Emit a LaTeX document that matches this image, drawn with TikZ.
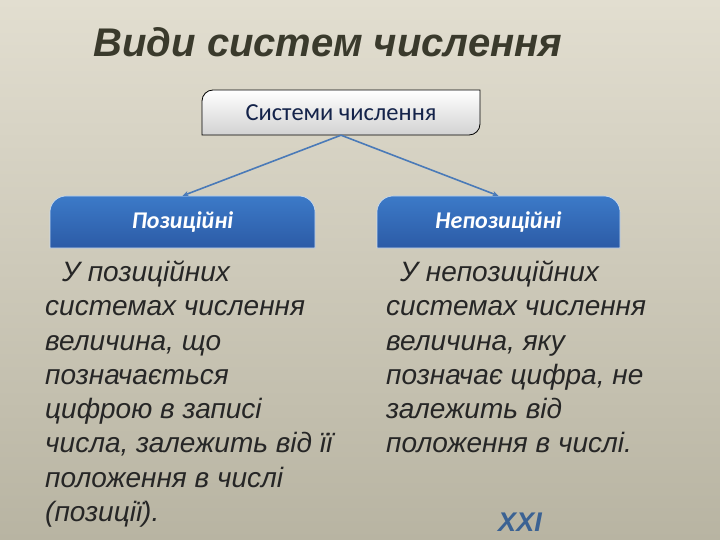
\documentclass[tikz,border=0pt]{standalone}
\usepackage{fontspec}
\setmainfont{Liberation Sans}
\newfontfamily\boxfont{Carlito}
\usetikzlibrary{arrows.meta}

\definecolor{bgtop}{HTML}{E2DED0}
\definecolor{bgbot}{HTML}{B8B4A2}
\definecolor{titlecol}{HTML}{3A3A2C}
\definecolor{boxtop}{HTML}{3C7AC8}
\definecolor{boxbot}{HTML}{2C5BA6}
\definecolor{arrowcol}{HTML}{4A7AB8}
\definecolor{navy}{HTML}{14234A}

\tikzset{
  labelbox/.style={minimum width=265pt, minimum height=52pt, inner sep=0pt,
    font=\boxfont\bfseries\itshape\fontsize{24}{28}\selectfont, text=white},
  bodytext/.style={anchor=north west, inner sep=0pt, align=left,
    font=\itshape\fontsize{28}{34.3}\selectfont, text=black!85},
  branch/.style={draw=arrowcol, line width=1.6pt, -{Stealth[length=6pt,width=5pt]}}
}

\begin{document}
\begin{tikzpicture}[x=1pt, y=-1pt]
	\shade[top color=bgtop, bottom color=bgbot] (0,0) rectangle (720,540); % Hintergrund
	\useasboundingbox (0,0) rectangle (720,540);
	
	\node[anchor=base, font=\bfseries\itshape\fontsize{40}{46}\selectfont, text=titlecol] (titel) at (328,57) {Види систем числення};
	
	% Oberer Kasten
	\shade[top color=white, bottom color=gray!35, draw=black, line width=0.8pt]
	  (202,135) [rounded corners=11pt] -- (202,90) [sharp corners] -- (480,90)
	  [rounded corners=11pt] -- (480,135) [sharp corners] -- cycle;
	\node[minimum width=278pt, minimum height=45pt, inner sep=0pt,
	  font=\boxfont\fontsize{24.5}{28}\selectfont, text=navy] (sys) at (341,112.5) {Системи числення};
	
	% Blaue Kaesten
	\shade[top color=boxtop, bottom color=boxbot, draw=white!75!boxtop, line width=0.6pt]
	  (50,248) [rounded corners=16pt] -- (50,196) -- (315,196) [sharp corners] -- (315,248) -- cycle;
	\shade[top color=boxtop, bottom color=boxbot, draw=white!75!boxtop, line width=0.6pt]
	  (377,248) [rounded corners=16pt] -- (377,196) -- (620,196) [sharp corners] -- (620,248) -- cycle;
	\node[labelbox] (pos) at (182.5,222) {Позиційні};
	\node[labelbox, minimum width=243pt] (nonpos) at (498.5,222) {Непозиційні};
	
	\draw[branch] (sys.south) -- (pos.north);
	\draw[branch] (sys.south) -- (nonpos.north);
	
	% Texte
	\node[bodytext] (postext) at (45,260.5) {\hspace*{17pt}У позиційних\\системах числення\\величина, що\\позначається\\цифрою в записі\\числа, залежить від її\\положення в числі\\(позиції).};
	\node[bodytext] (nonpostext) at (386,260.5) {\hspace*{14pt}У непозиційних\\системах числення\\величина, яку\\позначає цифра, не\\залежить від\\положення в числі.};
	
	\node[font=\bfseries\itshape\fontsize{27}{30}\selectfont, text=arrowcol!80!black] (xxi) at (520,522) {XXI};
\end{tikzpicture}
\end{document}
